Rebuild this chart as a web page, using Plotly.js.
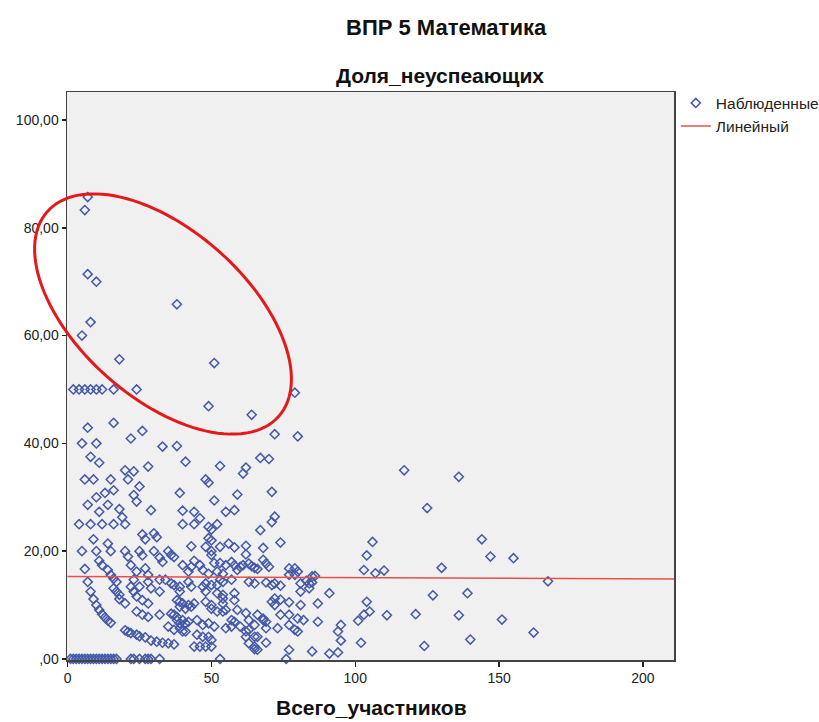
<!DOCTYPE html>
<html><head><meta charset="utf-8">
<script src="https://cdn.plot.ly/plotly-3.0.1.min.js"></script>
<style>body{margin:0;background:#fff}#chart{width:819px;height:722px}</style>
</head><body><div id="chart"></div>
<script>
// Всего_участников (x) / Доля_неуспеающих (y)
const obsZero = [[1,0],[2,0],[3,0],[4,0],[5,0],[6,0],[7,0],[8,0],[9,0],[10,0],[11,0],[12,0],[13,0],[14,0],[15,0],[16,0],[17,0],[22,0],[23,0],[25,0],[27,0],[28,0],[29,0],[32,0],[53,0],[76,0]];
const obsHigh = [[7,85.7],[6,83.3],[7,71.4],[10,70],[38,65.8],[8,62.5],[5,60],[18,55.6],[51,54.9],
 [2,50],[4,50],[6,50],[8,50],[10,50],[12,50],[16,50],[24,50],
 [49,46.9],[64,45.3],[79,49.4],[7,42.9],[16,43.8],[5,40],[10,40],[22,40.9],[26,42.3],[33,39.4],[38,39.5],[72,41.7],[80,41.3],
 [8,37.5],[11,36.4],[41,36.6],[53,35.8],[62,35.5],[67,37.3],[70,37.1],[28,35.7],[20,35],[23,34.8],[117,35],[136,33.8]];
const obsMid = [[6,33.3],[9,33.3],[15,33.3],[21,33.3],[48,33.3],[49,32.7],[61,34.4],[7,28.6],[10,30],[13,30.8],[16,31.3],[23,30.4],[24,29.2],[25,32],[39,30.8],[51,29.4],[59,30.5],[71,31],[11,27.3],[14,28.6],[18,27.8],[29,27.6],[40,27.5],[44,27.3],[46,26.1],[55,27.3],[58,27.6],[72,26.4],[125,28],
 [4,25],[8,25],[12,25],[16,25],[19,26.3],[20,25],[40,25],[44,25],[49,24.5],[50,24],[52,25],[9,22.2],[14,21.4],[26,23.1],[27,22.2],[30,23.3],[31,22.6],[49,22.4],[50,22],[67,23.9],[71,25.4],[74,21.6],[56,21.4],[62,21],[43,20.9],[68,20.6],[106,21.7],[144,22.2],[53,20.8],
 [5,20],[10,20],[15,20],[20,20],[25,20],[30,20],[35,20],[48,20.8],[50,20],[58,20.7]];
const obsLowLeft = [[6,16.7],[7,14.3],[8,12.5],[9,11.1],[10,10],[11,9.1],[12,8.3],[13,7.7],[14,7.1],[15,6.7],
 [20,5.3],[21,5],[22,4.8],[24,4.5],[25,4.2],[27,4],[29,3.4],[31,3.2],[33,3],[35,2.9],[37,2.7],
 [11,18.2],[12,17.4],[14,16.5],[15,15.6],[16,14.9],[17,14.3],[16,13.1],[17,12.5],[18,11.9],[18,11.1],[20,10.3]];
const obsLowMid = [[22,17.4],[24,16.2],[27,16.8],[28,15.6],[33,18],[40,17.4],[42,16.2],[43,17.1],[46,17.4],[47,16.5],[49,15.8],
 [23,14.7],[25,13.4],[28,14.3],[29,13.1],[32,12.5],[34,14.7],[36,14],[37,13.7],[39,13.4],[42,14.3],[43,13.4],[48,14],[48,12.5],[53,14.7],[54,14.3],[57,14.7],[63,14.3],[65,14],[58,12.2],[58,10.9],
 [22,13.4],[23,12.5],[24,11.6],[26,10.9],[28,10.3],[39,10.6],[40,10.3],[42,10],[43,9.7],[44,10.3],[48,10.6],[50,10],[54,11.2],[54,10.3],[59,9.1],
 [24,8.8],[26,8.2],[28,7.8],[32,8.2],[36,8.4],[37,8.2],[38,7.8],[40,7.2],[41,6.6],[42,6.9],[45,7.2],[47,6.3],[49,6.6],[51,6],[55,9.1],[57,7.2],[62,8.5],[63,7.2],[66,8.2],[68,7.2],
 [63,5.4],[65,4.1],[63,2.9],[66,1.7],[35,6],[37,5.4],[39,5.7],[40,5.1],[45,4.5],[47,4.1],[46,2.3],[48,2.3],[50,2.3],[55,5.7],[57,6],[49,4.1],[50,3.5],
 [36,19.3],[50,19.3],[51,17.8],[53,17.8],[55,17.4],[57,18],[58,17.4],[60,17.1],[61,17.4],[63,17.7],[68,18.4],[69,17.7],
 [21,19],[26,19.2],[32,18.8],[37,18.9],[44,18.2],[62,19.4],[64,17.2],[52,16.2],[54,15.8],[59,16.5],[52,13.7],[50,13.7],[47,13.4],[52,12.2],[54,11.9],[50,9.3],[52,8.8],[54,8.8],[58,6.9],[60,6],[62,5.1],[62,4.1],[65,2.3],[44,2.3],[41,5.1],[39,9.7],[41,9.3],[38,10.9],[39,12.5],[32,14.7],[38,7.2],[39,6.6]];
const obsLowRight = [[65,16.9],[66,16.7],[70,17.1],[69,14.2],[71,13.7],[72,14],[74,13.6],
 [77,16.8],[79,16.8],[80,16.2],[79,15.6],[77,15.6],[81,14],[83,14.5],[84,14],[85,14.2],[85,15.3],[86,15.4],
 [81,12.5],[84,13.1],[91,12.2],[87,10.3],[81,10],[77,10.5],[74,11],[72,10],[71,10.6],[72,11.2],
 [74,8.2],[77,8.2],[80,7.5],[82,7.2],[77,6.3],[79,5.4],[80,5.1],[73,5.7],[69,6.9],[68,7.5],[65,6.3],[69,5.7],
 [87,6.9],[94,5.1],[95,6.3],[95,3.4],[69,3],[65,1.8],[66,4.1],[77,1.7],[85,1.4],[91,1],[94,1.2],
 [103,16.5],[107,15.9],[110,16.4],[104,19.2],[130,16.9],[127,11.8],[104,10.6],[105,8.8],[103,8.2],[101,7.1],[111,8.1],[121,8.3],[102,3],[124,2.4],
 [167,14.4],[139,12.2],[136,8.1],[151,7.3],[140,3.6],[162,4.9],[147,19],[155,18.7]];
// Линейный fit line
const fitX = [0, 210.8];
const fitY = [15.3, 14.85];

const yTickVals = [0,20,40,60,80,100];
const yTickText = [",00","20,00","40,00","60,00","80,00","100,00"];
const xTickVals = [0,50,100,150,200];

const all = [].concat(obsZero, obsHigh, obsMid, obsLowLeft, obsLowMid, obsLowRight);
const xs = all.map(p => p[0]), ys = all.map(p => p[1]);

const F = 'Arial, "Liberation Sans", sans-serif';
const M = {l:67, r:145, t:92, b:62, autoexpand:false}, W = 819 - M.l - M.r, H = 722 - M.t - M.b;
const px2x = px => (px - M.l) / W, py2y = py => (722 - M.b - py) / H;

// red hand-drawn ellipse annotation (pixel geometry)
const ell = {cx:163, cy:314, a:154.5, b:84, rot:41.5};
let path = '';
const phi = ell.rot * Math.PI / 180;
for (let i = 0; i <= 120; i++) {
  const t = i / 120 * 2 * Math.PI;
  const px = ell.cx + ell.a*Math.cos(t)*Math.cos(phi) - ell.b*Math.sin(t)*Math.sin(phi);
  const py = ell.cy + ell.a*Math.cos(t)*Math.sin(phi) + ell.b*Math.sin(t)*Math.cos(phi);
  path += (i ? 'L' : 'M') + px2x(px).toFixed(5) + ',' + py2y(py).toFixed(5);
}
path += 'Z';

const traces = [
  {type:'scatter', mode:'markers', x:xs, y:ys, name:'Наблюденные', cliponaxis:false,
   marker:{symbol:'diamond-open', size:7, color:'#4459a8', line:{width:1.5, color:'#4459a8'}}},
  {type:'scatter', mode:'lines', x:fitX, y:fitY, name:'Линейный',
   line:{color:'#e8504c', width:1.5}}
];

const layout = {
  width:819, height:722, margin:M,
  paper_bgcolor:'#ffffff', plot_bgcolor:'#f0f0f0',
  font:{family:F, color:'#222', size:14},
  showlegend:true,
  legend:{x:1.003, y:1.01, xanchor:'left', yanchor:'top', bgcolor:'rgba(0,0,0,0)',
    font:{family:F, size:15.5, color:'#222'}, tracegroupgap:0, itemwidth:30},
  xaxis:{range:[-0.2, 210.8], tickvals:xTickVals, ticks:'outside', ticklen:5, tickwidth:1.5, tickcolor:'#222',
    showline:true, mirror:true, linecolor:'#444', linewidth:1.5, showgrid:false, zeroline:false,
    tickfont:{family:F, size:14, color:'#222'}},
  yaxis:{range:[-0.2, 105.2], tickvals:yTickVals, ticktext:yTickText, ticks:'outside', ticklen:4, tickwidth:1.5, tickcolor:'#222',
    showline:true, mirror:true, linecolor:'#444', linewidth:1.5, showgrid:false, zeroline:false,
    tickfont:{family:F, size:14, color:'#222'}},
  annotations:[
    {text:'<b>ВПР 5 Математика</b>', xref:'paper', yref:'paper', x:px2x(446), y:py2y(28), showarrow:false,
     xanchor:'center', yanchor:'middle', font:{family:F, size:22, color:'#111'}},
    {text:'<b>Доля_неуспеающих</b>', xref:'paper', yref:'paper', x:px2x(440), y:py2y(75), showarrow:false,
     xanchor:'center', yanchor:'middle', font:{family:F, size:21, color:'#111'}},
    {text:'<b>Всего_участников</b>', xref:'paper', yref:'paper', x:px2x(371), y:py2y(708), showarrow:false,
     xanchor:'center', yanchor:'middle', font:{family:F, size:21, color:'#111'}}
  ],
  shapes:[{type:'path', xref:'paper', yref:'paper', path:path, line:{color:'#e31a1c', width:3}, fillcolor:'rgba(0,0,0,0)'}]
};
Plotly.newPlot('chart', traces, layout, {displayModeBar:false, staticPlot:true});
</script></body></html>
